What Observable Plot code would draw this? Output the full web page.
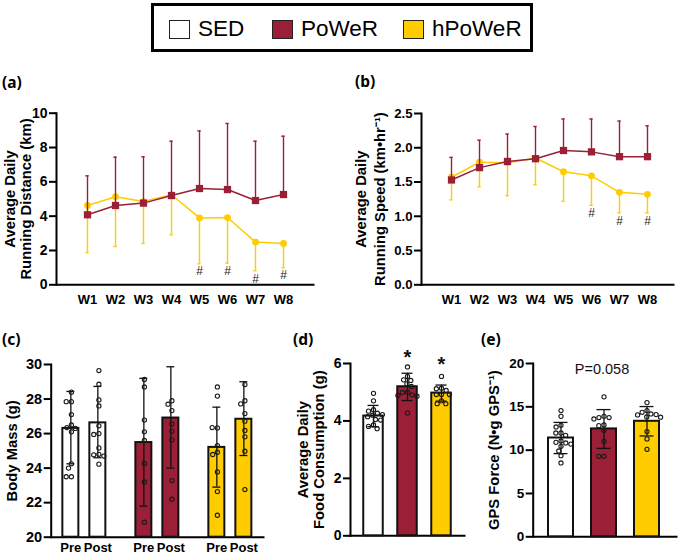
<!DOCTYPE html>
<html><head><meta charset="utf-8">
<script src="https://cdn.jsdelivr.net/npm/d3@7"></script>
<script src="https://cdn.jsdelivr.net/npm/@observablehq/plot@0.6"></script>
<style>
html,body{margin:0;padding:0;background:#fff}
#page{position:relative;width:680px;height:556px;overflow:hidden;font-family:"Liberation Sans",Arial,sans-serif}
#legend{position:absolute;left:151px;top:3px;width:376px;height:43px;border:3px solid #000;box-sizing:content-box}
.key{position:absolute;height:22px;font-size:22.5px;line-height:22px;white-space:nowrap}
.sw{position:absolute;box-sizing:border-box;width:21px;height:18.5px;border:1.5px solid #222;top:1px;left:0}
.key span{position:absolute;left:29px;top:-1px}
.tag{position:absolute;font:700 15.5px "Noto Sans",sans-serif}
svg{position:absolute}
</style></head><body><div id="page"></div>
<script>
const groups = ["SED","PoWeR","hPoWeR"];
const colors = ["#ffffff","#9b2037","#ffcc00"];
const weeks = ["W1","W2","W3","W4","W5","W6","W7","W8"];

const distPowerMean = [4.08,4.62,4.76,5.2,5.61,5.55,4.91,5.26];
const distPowerHigh = [6.35,7.44,7.46,8.37,8.97,9.4,8.37,8.66];
const distHpowerMean = [4.62,5.13,4.85,5.25,3.9,3.92,2.49,2.41];
const distHpowerLow = [1.88,2.23,2.41,2.91,1.22,1.26,0.82,0.99];
const distMarks = [["W5",0.78],["W6",0.78],["W7",0.35],["W8",0.54]];

const speedPowerMean = [1.53,1.71,1.8,1.84,1.96,1.94,1.87,1.87];
const speedPowerHigh = [1.86,2.11,2.2,2.31,2.42,2.42,2.39,2.32];
const speedHpowerMean = [1.57,1.79,1.78,1.85,1.65,1.59,1.35,1.32];
const speedHpowerLow = [1.24,1.43,1.3,1.46,1.22,1.16,1.05,1.05];
const speedMarks = [["W6",1.04],["W7",0.93],["W8",0.93]];

const massStats = [
  ["SED","Pre",26.3,24.25,28.44],["SED","Post",26.62,24.6,28.73],
  ["PoWeR","Pre",25.48,21.8,29.2],["PoWeR","Post",26.9,24.0,29.87],
  ["hPoWeR","Pre",25.2,22.9,27.53],["hPoWeR","Post",26.83,24.73,29.0]];
const massDots = {
  "SED|Pre":[28.4,27.85,27.85,27.1,26.5,26.35,26.3,26.1,24.25,24.0,23.5,23.5],
  "SED|Post":[29.65,28.86,27.95,27.6,26.45,26.0,25.95,25.17,24.8,24.77,24.7,24.23],
  "PoWeR|Pre":[29.13,28.7,26.78,26.1,25.6,24.27,23.2,20.87],
  "PoWeR|Post":[27.9,27.7,27.33,26.56,26.14,25.64,23.28,22.2],
  "hPoWeR|Pre":[28.7,28.17,26.33,26.35,25.3,24.92,24.79,23.78,22.64,21.27],
  "hPoWeR|Post":[28.84,27.9,27.72,27.16,26.72,26.18,25.81,24.98,22.76]};

const foodStats = [["SED",4.17,3.8,4.54],["PoWeR",5.19,4.71,5.66],["hPoWeR",4.97,4.69,5.25]];
const foodDots = {
  SED:[4.96,4.7,4.39,4.34,4.27,4.22,4.2,4.15,4.05,4.03,3.86,3.81,3.73],
  PoWeR:[5.88,5.55,5.43,5.41,5.29,5.2,5.0,4.99,4.91,4.89,4.86,4.28],
  hPoWeR:[5.55,5.14,5.12,5.06,4.92,4.92,4.92,4.7,4.6,4.6]};
const foodStars = [["PoWeR",6.22],["hPoWeR",5.95]];

const forceStats = [["SED",11.4,9.6,13.2],["PoWeR",12.45,10.2,14.68],["hPoWeR",13.33,11.64,15.03]];
const forceDots = {
  SED:[14.57,13.9,12.87,12.68,11.98,11.98,11.7,11.06,10.9,10.83,10.7,10.44,9.9,9.36,8.52],
  PoWeR:[16.15,13.9,13.76,13.76,13.6,12.9,12.83,12.3,11.02,9.29,9.29],
  hPoWeR:[15.49,14.57,14.37,14.18,14.1,14.07,13.83,13.8,12.14,11.3,10.1]};

const page = document.getElementById("page");
const red = colors[1], yellow = colors[2];
const FONT = '"Liberation Sans",Arial,sans-serif';

// legend
const legend = document.createElement("div"); legend.id = "legend"; page.append(legend);
[15,118,249].forEach((left,i)=>{
  const k = document.createElement("div"); k.className="key"; k.style.left=left+"px"; k.style.top="13px";
  k.innerHTML = `<div class="sw" style="background:${colors[i]}"></div><span>${groups[i]}</span>`;
  legend.append(k);
});
[["(a)",2,71],["(b)",355,70],["(c)",2,328],["(d)",293,328],["(e)",481,328]].forEach(([t,l,tp])=>{
  const d=document.createElement("div"); d.className="tag"; d.textContent=t; d.style.left=l+"px"; d.style.top=tp+"px"; page.append(d);
});

function place(svg,left,top){ svg.style.left=left+"px"; svg.style.top=top+"px"; svg.style.maxWidth="none"; page.append(svg); }
const tickOpts = {label:null,tickSize:7,tickPadding:2,strokeWidth:2,fontWeight:"bold",stroke:"#000",fill:"#000"};
const TITLE = 14.8;
const yTitle = (t,dx,lh=1.23) => Plot.text([t],{text:d=>d,frameAnchor:"left",textAnchor:"middle",lineAnchor:"middle",rotate:-90,dx,fontSize:TITLE,fontWeight:"bold",fill:"#000",lineHeight:lh});
const axisLines = [
  Plot.frame({anchor:"left",stroke:"#000",strokeWidth:2}),
  Plot.frame({anchor:"bottom",stroke:"#000",strokeWidth:2})
];
const baseStyle = {fontFamily:FONT,overflow:"visible",background:"none"};

function linePanel({left,top,width,height,ml,mr,mt,mb,domain,range,ticks,title,titleDx,lh,pm,ph,hm,hl,marks,format,tickFont}){
  const rows = weeks.map((w,i)=>({w,pm:pm[i],ph:ph[i],hm:hm[i],hl:hl[i]}));
  const svg = Plot.plot({
    width,height,marginLeft:ml,marginRight:mr,marginTop:mt,marginBottom:mb,
    style:baseStyle,
    x:{type:"band",domain:weeks,range,padding:0,label:null},
    y:{domain,label:null},
    marks:[
      Plot.ruleX(rows,{x:"w",y1:"hm",y2:"hl",stroke:yellow,strokeWidth:1.4}),
      Plot.tickY(rows,{x:"w",y:"hl",stroke:yellow,strokeWidth:1.4,insetLeft:12.3,insetRight:12.3}),
      Plot.line(rows,{x:"w",y:"hm",stroke:yellow,strokeWidth:1.5}),
      Plot.dot(rows,{x:"w",y:"hm",fill:yellow,r:3.4}),
      Plot.ruleX(rows,{x:"w",y1:"pm",y2:"ph",stroke:red,strokeWidth:1.4}),
      Plot.tickY(rows,{x:"w",y:"ph",stroke:red,strokeWidth:1.4,insetLeft:12.3,insetRight:12.3}),
      Plot.line(rows,{x:"w",y:"pm",stroke:red,strokeWidth:1.5}),
      Plot.dot(rows,{x:"w",y:"pm",fill:red,symbol:"square",r:4.1}),
      Plot.text(marks,{x:d=>d[0],y:d=>d[1],text:()=>"#",fontSize:12,fill:"#222"}),
      Plot.axisX({tickSize:0,tickPadding:9.5,fontSize:13,fontWeight:"bold",label:null,fill:"#000"}),
      Plot.axisY({...tickOpts,fontSize:tickFont,ticks,tickFormat:format}),
      ...axisLines,
      yTitle(title,titleDx,lh)
    ]});
  place(svg,left,top);
}
linePanel({left:0,top:100,width:340,height:220,ml:56,mr:27,mt:12.7,mb:35.7,domain:[0,10],range:[69.9,299.4],ticks:[0,2,4,6,8,10],tickFont:14,
  title:"Average Daily\nRunning Distance (km)",titleDx:-39,lh:1.08,pm:distPowerMean,ph:distPowerHigh,hm:distHpowerMean,hl:distHpowerLow,marks:distMarks,format:d3.format("d")});
linePanel({left:340,top:100,width:340,height:220,ml:81,mr:7,mt:13,mb:35.7,domain:[0,2.5],range:[94.4,323.4],ticks:[0,.5,1,1.5,2,2.5],tickFont:13.2,
  title:"Average Daily\nRunning Speed (km•hr⁻¹)",titleDx:-52,lh:1.25,pm:speedPowerMean,ph:speedPowerHigh,hm:speedHpowerMean,hl:speedHpowerLow,marks:speedMarks,format:d3.format(".1f")});

// bar panels: one un-faceted plot holds the y axis, baseline and y title; the faceted one on top holds the data
function axesLayer({left,top,width,ml,mr,mt,mb,domain,ticks,title,dx,lh,tickFont}){
  const svg = Plot.plot({
    width,height:220,marginLeft:ml,marginRight:mr,marginTop:mt,marginBottom:mb,
    style:baseStyle,
    x:{axis:null,domain:[0,1]},
    y:{domain,label:null},
    marks:[Plot.axisY({...tickOpts,fontSize:tickFont,ticks,tickFormat:d3.format("d")}),...axisLines,yTitle(title,dx,lh)]});
  place(svg,left,top);
}
const scatter = (rows,opts)=>Plot.dot(rows,Plot.dodgeX("middle",{y:"v",fx:"g",r:2.1,stroke:"#1a1a1a",strokeWidth:1.1,fill:"none",...opts}));

// (c)
{
  const rows = massStats.map(([g,c,m,lo,hi])=>({g,c,m,lo,hi}));
  const dots = c => groups.flatMap(g=>massDots[g+"|"+c].map(v=>({g,v})));
  axesLayer({left:0,top:350,width:290,ml:50.7,mr:27,mt:14,mb:33.3,domain:[20,30],ticks:[20,22,24,26,28,30],tickFont:14.5,title:"Body Mass (g)",dx:-39.5,lh:1.2});
  const svg = Plot.plot({
    width:290,height:220,marginLeft:45.65,marginRight:22.35,marginTop:14,marginBottom:33.3,
    style:baseStyle,
    fx:{domain:groups,padding:0,axis:null,label:null},
    x:{domain:["Pre","Post"],paddingInner:.4,paddingOuter:.545,label:null},
    y:{domain:[20,30],axis:null,label:null},
    color:{domain:groups,range:colors},
    marks:[
      Plot.barY(rows,{fx:"g",x:"c",y1:()=>20,y2:"m",fill:"g",stroke:"#111",strokeWidth:2}),
      Plot.ruleX(rows,{fx:"g",x:"c",y1:"lo",y2:"hi",stroke:"#111",strokeWidth:1.3}),
      Plot.tickY(rows,{fx:"g",x:"c",y:"lo",stroke:"#111",strokeWidth:1.3,insetLeft:4,insetRight:4}),
      Plot.tickY(rows,{fx:"g",x:"c",y:"hi",stroke:"#111",strokeWidth:1.3,insetLeft:4,insetRight:4}),
      scatter(dots("Pre"),{dx:-20.6,padding:1.5}),
      scatter(dots("Post"),{dx:6.9,padding:1.5}),
      Plot.axisX({tickSize:0,tickPadding:5.5,fontSize:13,fontWeight:"bold",label:null,fill:"#000"})
    ]});
  place(svg,0,350);
}

function barPanel({left,width,ml,mr,mt,mb,domain,ticks,tickFont,fxRange,inset,capInset,stats,dots,title,dx,lh,padding,extra}){
  const rows = stats.map(([g,m,lo,hi])=>({g,m,lo,hi}));
  const pts = groups.flatMap(g=>dots[g].map(v=>({g,v})));
  axesLayer({left,top:350,width,ml,mr,mt,mb,domain,ticks,title,dx,lh,tickFont});
  const svg = Plot.plot({
    width,height:220,marginLeft:fxRange[0],marginRight:width-fxRange[1],marginTop:mt,marginBottom:mb,
    style:baseStyle,
    fx:{domain:groups,padding:0,axis:null,label:null},
    y:{domain,axis:null,label:null},
    color:{domain:groups,range:colors},
    marks:[
      Plot.barY(rows,{fx:"g",y:"m",fill:"g",stroke:"#111",strokeWidth:2,insetLeft:inset,insetRight:inset}),
      Plot.ruleX(rows,{fx:"g",x:null,y1:"lo",y2:"hi",stroke:"#111",strokeWidth:1.3}),
      Plot.tickY(rows,{fx:"g",y:"lo",stroke:"#111",strokeWidth:1.3,insetLeft:capInset,insetRight:capInset}),
      Plot.tickY(rows,{fx:"g",y:"hi",stroke:"#111",strokeWidth:1.3,insetLeft:capInset,insetRight:capInset}),
      scatter(pts,{padding}),
      ...extra
    ]});
  place(svg,left,350);
}
barPanel({left:290,width:190,ml:60,mr:16,mt:13,mb:34.7,domain:[0,6],ticks:[0,2,4,6],tickFont:14,fxRange:[65.05,168.55],inset:7.25,capInset:11.5,padding:1.5,
  stats:foodStats,dots:foodDots,title:"Average Daily\nFood Consumption (g)",dx:-40,lh:1.08,
  extra:[Plot.text(foodStars,{fx:d=>d[0],y:d=>d[1],text:()=>"*",fontSize:20,fontWeight:"bold",fill:"#111"})]});
barPanel({left:480,width:200,ml:52.7,mr:4,mt:13,mb:33.7,domain:[0,20],ticks:[0,5,10,15,20],tickFont:13.5,fxRange:[59.2,188.2],inset:9,capInset:14.5,padding:2.5,
  stats:forceStats,dots:forceDots,title:"GPS Force (N•g GPS⁻¹)",dx:-39.7,lh:1.2,
  extra:[Plot.text(["P=0.058"],{fx:()=>"PoWeR",y:()=>19.35,dx:-2,text:d=>d,fontSize:14.5,fill:"#111"})]});
</script></body></html>
